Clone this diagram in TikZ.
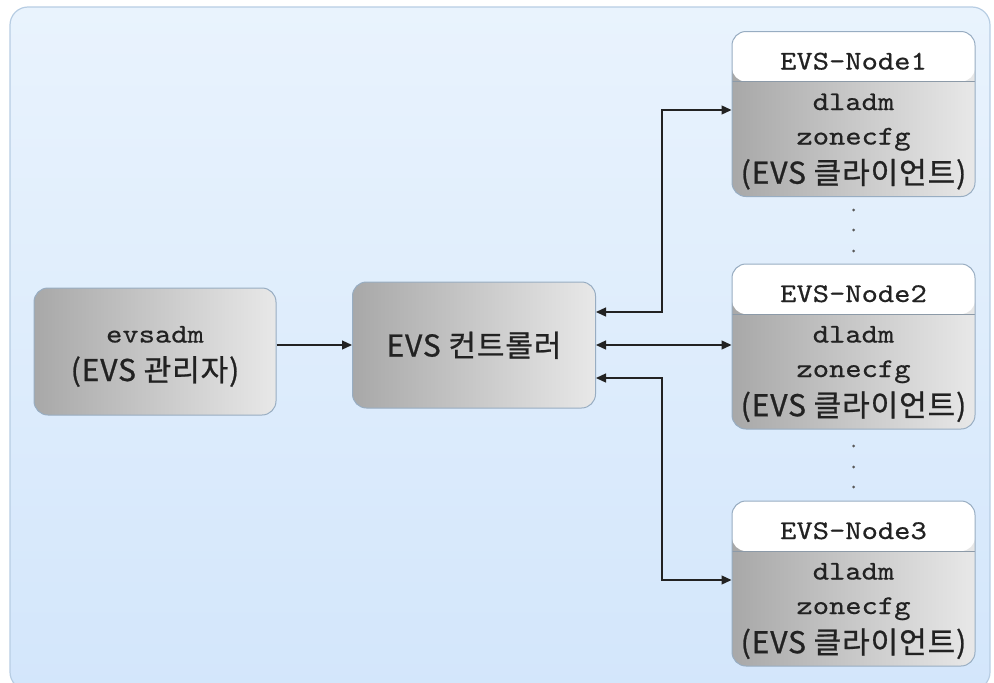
\documentclass[tikz,border=0pt]{standalone}
\usepackage{fontspec}
\setmainfont{Noto Sans CJK KR}
\newfontfamily\krfont[FakeBold=0.8,LetterSpace=3]{Noto Sans CJK KR}
\newfontfamily\monofont[Extension=.otf,FakeStretch=1.15,FakeBold=0.5]{lmmono10-regular}
\usetikzlibrary{arrows.meta}

\definecolor{panelTop}{HTML}{E9F3FD}
\definecolor{panelBot}{HTML}{D3E6FB}
\definecolor{panelLine}{HTML}{B7CDE3}
\definecolor{boxL}{HTML}{A8A8A8}
\definecolor{boxM}{HTML}{C4C4C4}
\definecolor{boxR}{HTML}{E8E8E8}
\definecolor{boxLine}{HTML}{98ADC2}
\definecolor{divLine}{HTML}{8C9AA8}
\definecolor{ink}{HTML}{222222}

\tikzset{
  graybox/.style={rectangle, rounded corners=14pt, draw=boxLine, line width=1pt,
    left color=boxL, middle color=boxM, right color=boxR},
  admbox/.style={graybox, minimum width=242pt, minimum height=127pt},
  ctlbox/.style={graybox, minimum width=243pt, minimum height=126pt},
  clientbox/.style={graybox, minimum width=243pt, minimum height=165pt,
    path picture={
      \fill[white] (path picture bounding box.north west)
        rectangle ([yshift=-50pt]path picture bounding box.north east);
      \draw[divLine, line width=0.8pt]
        ([yshift=-50pt]path picture bounding box.north west)
        -- ([yshift=-50pt]path picture bounding box.north east);
    }},
  mono/.style={font=\monofont\fontsize{27}{30}\selectfont, text=ink, anchor=base, inner sep=0pt},
  sans/.style={font=\krfont\fontsize{30}{32}\selectfont, text=ink, anchor=base, inner sep=0pt},
  conn/.style={line width=1.3pt, draw=ink, -{Triangle[length=10pt,width=9pt]}},
  dconn/.style={line width=1.3pt, draw=ink,
    {Triangle[length=10pt,width=9pt]}-{Triangle[length=10pt,width=9pt]}},
  dotmark/.style={fill=black!65, draw=none}
}

\begin{document}
\begin{tikzpicture}[x=1pt,y=-1pt]
  \useasboundingbox (0,0) rectangle (994,683);
  \clip (0,0) rectangle (994,683);

  % background panel
  \draw[panelLine, line width=1.2pt, rounded corners=18pt,
        top color=panelTop, bottom color=panelBot] (10,7) rectangle (990,690);

  % administrator and controller
  \node[admbox] (adm) at (155,351.5) {};
  \node[mono] (admcmd) at ([yshift=-55pt]adm.north) {evsadm};
  \node[sans] (admtxt) at ([yshift=-93.5pt]adm.north) {(EVS 관리자)};

  \node[ctlbox] (ctl) at (474,345) {};
  \node[sans] (ctltxt) at ([yshift=-11.5pt]ctl.center) {EVS 컨트롤러};

  % client nodes
  \foreach \i/\cy in {1/114,2/346.5,3/583.5} {
    \node[clientbox] (n\i) at (853.5,\cy) {};
    \node[mono] (n\i h) at ([yshift=-38.5pt]n\i.north) {EVS-Node\i};
    \node[mono] (n\i a) at ([yshift=-79pt]n\i.north) {dladm};
    \node[mono] (n\i b) at ([yshift=-113.5pt]n\i.north) {zonecfg};
    \node[sans] (n\i c) at ([yshift=-152.7pt]n\i.north) {(EVS 클라이언트)};
  }

  % ellipsis dots between client nodes
  \foreach \y in {210,230,251,446,467,487}
    \fill[dotmark] (853.5,\y) circle (1.5pt);

  % connectors
  \coordinate (j1) at (662,110);
  \coordinate (j3) at (662,580);
  \draw[conn] (adm.east |- ctl.west) -- (ctl.west);
  \draw[dconn] ([yshift=33pt]ctl.east) -| (j1) -- (n1.west |- j1);
  \draw[dconn] (ctl.east) -- (n2.west |- ctl.east);
  \draw[dconn] ([yshift=-33pt]ctl.east) -| (j3) -- (n3.west |- j3);
\end{tikzpicture}
\end{document}
